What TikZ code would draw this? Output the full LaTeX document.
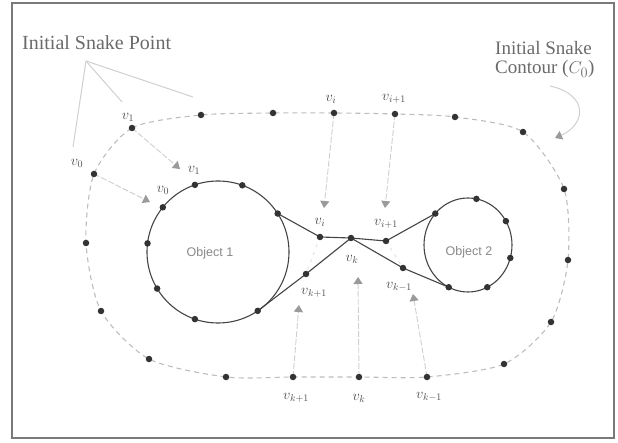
\documentclass[tikz,border=0pt]{standalone}
\usepackage{fontspec}
\setmainfont{Liberation Serif}
\newfontfamily\objfont{Liberation Sans}
\usetikzlibrary{arrows.meta,calc}
\definecolor{framec}{HTML}{7A7A7A}
\definecolor{contourc}{HTML}{BDBDBD}
\definecolor{dotc}{HTML}{333333}
\definecolor{solidc}{HTML}{444444}
\definecolor{arrc}{HTML}{CFCFCF}
\definecolor{headc}{HTML}{9A9A9A}
\definecolor{txtc}{HTML}{6A6A6A}
\definecolor{labc}{HTML}{4A4A4A}
\tikzset{
  dot/.style={circle,fill=dotc,inner sep=0pt,minimum size=6.5pt},
  contour/.style={draw=contourc,line width=1.1pt,dash pattern=on 5pt off 4pt},
  snake/.style={draw=solidc,line width=1.1pt},
  obj/.style={draw=solidc,line width=1.1pt},
  movearr/.style={draw=arrc,line width=0.9pt,dash pattern=on 6pt off 2pt,-{Triangle[width=9pt,length=7pt,fill=headc,color=headc,sep=0pt]}},
  faint/.style={draw=arrc!70,line width=0.8pt,dash pattern=on 3pt off 5pt},
  pointer/.style={draw=arrc,line width=1pt},
  curvearr/.style={draw=arrc,line width=1pt,-{Triangle[width=9pt,length=7pt,fill=headc,color=headc]}},
  vlab/.style={text=labc,font=\fontsize{14}{14}\selectfont,inner sep=0pt},
  bigtxt/.style={text=txtc,font=\fontsize{20}{16}\selectfont,inner sep=0pt,align=left},
  objlab/.style={text=txtc!80,font=\objfont\fontsize{12.5}{12.5}\selectfont,inner sep=0pt}
}
\begin{document}
\begin{tikzpicture}[x=1pt,y=-1pt]
\useasboundingbox (0,0) rectangle (618,443);
\draw[framec,line width=1.4pt] (12,3) rectangle (614,438);

% outer contour coordinates
\coordinate (o1) at (94,174);
\coordinate (o2) at (132,128);
\coordinate (o3) at (201,115);
\coordinate (o4) at (273,113);
\coordinate (o5) at (334,113);
\coordinate (o6) at (395,114);
\coordinate (o7) at (455,117);
\coordinate (o8) at (523,132);
\coordinate (o9) at (564,189);
\coordinate (o10) at (568,260);
\coordinate (o11) at (551,322);
\coordinate (o12) at (504,364);
\coordinate (o13) at (427,377);
\coordinate (o14) at (359,377);
\coordinate (o15) at (293,377);
\coordinate (o16) at (226,377);
\coordinate (o17) at (149,359);
\coordinate (o18) at (101,311);
\coordinate (o19) at (86,243);
\draw[contour] plot[smooth cycle,tension=0.45] coordinates {(o1) (o2) (o3) (o4) (o5) (o6) (o7) (o8) (o9) (o10) (o11) (o12) (o13) (o14) (o15) (o16) (o17) (o18) (o19)};

% objects
\coordinate (c1) at (218,252);
\coordinate (c2) at (468,245);
\draw[obj] (c1) circle[radius=71];
\draw[obj] (c2) ellipse[x radius=44,y radius=47];
\node[objlab] (obj1) at (210,253) {Object 1};
\node[objlab] (obj2) at (469,252) {Object 2};

% points on object 1
\coordinate (a1) at ($(c1)+(251:71)$);
\coordinate (a2) at ($(c1)+(-70:71)$);
\coordinate (a3) at ($(c1)+(-32.8:71)$);
\coordinate (a4) at ($(c1)+(187:71)$);
\coordinate (a5) at ($(c1)+(149:71)$);
\coordinate (a6) at ($(c1)+(109:71)$);
\coordinate (a7) at ($(c1)+(56:71)$);
\coordinate (a8) at ($(c1)+(219:71)$);
% points on object 2
\coordinate (b1) at ($(c2)+(-79:44 and 47)$);
\coordinate (b2) at ($(c2)+(-30.5:44 and 47)$);
\coordinate (b3) at ($(c2)+(16:44 and 47)$);
\coordinate (b4) at ($(c2)+(64:44 and 47)$);
\coordinate (b5) at ($(c2)+(116:44 and 47)$);
\coordinate (b6) at ($(c2)+(222:44 and 47)$);
% inner snake points
\coordinate (si) at (320,237);
\coordinate (sm) at (351,238);
\coordinate (si1) at (386,241);
\coordinate (skm) at (403,268);
\coordinate (skp) at (306,274);

% faint dashes
\draw[faint] (si) -- (skp);
\draw[faint] (si1) -- (skm);

% converged snake
\draw[snake] (a3) -- (si) -- (sm) -- (si1) -- (b6);
\draw[snake] (sm) -- (skm) -- (b5);
\draw[snake] (sm) -- (skp) -- (a7);

% movement arrows
\coordinate (t1) at (180,169);
\coordinate (t0) at (150,202);
\coordinate (ti) at (324,208);
\coordinate (ti1) at (385,208);
\coordinate (tkp) at (299,305);
\coordinate (tk) at (358,277);
\coordinate (tkm) at (413,294);
\draw[movearr] (o2) -- (t1);
\draw[movearr] (o1) -- (t0);
\draw[movearr] (o5) -- (ti);
\draw[movearr] (o6) -- (ti1);
\draw[movearr] (o15) -- (tkp);
\draw[movearr] (o14) -- (tk);
\draw[movearr] (o13) -- (tkm);

% dots
\foreach \p in {o1,o2,o3,o4,o5,o6,o7,o8,o9,o10,o11,o12,o13,o14,o15,o16,o17,o18,o19,a1,a2,a3,a4,a5,a6,a7,a8,b1,b2,b3,b4,b5,b6,si,sm,si1,skm,skp}
  \node[dot] (d\p) at (\p) {};

% initial snake point text and pointers
\node[bigtxt,anchor=base west] (isp) at (22,50) {Initial Snake Point};
\coordinate (ispo) at (86,61);
\coordinate (ispa) at (73,147);
\coordinate (ispb) at (122,102);
\coordinate (ispc) at (193,97);
\draw[pointer] (ispo) -- (ispa);
\draw[pointer] (ispo) -- (ispb);
\draw[pointer] (ispo) -- (ispc);

% initial contour text
\node[bigtxt,anchor=base west,font=\fontsize{19}{16}\selectfont] (isc1) at (495,55) {Initial Snake};
\node[bigtxt,anchor=base west,font=\fontsize{19}{16}\selectfont] (isc2) at (495,74) {Contour ($C_0$)};
\coordinate (cs) at (550,86);
\coordinate (ce) at (555,138);
\draw[curvearr] (cs) .. controls (590,95) and (585,125) .. (ce);

% vertex labels
\node[vlab] (l1) at (128,117) {$v_1$};
\node[vlab] (l0) at (77,163) {$v_0$};
\node[vlab] (l1p) at (194,170) {$v_1$};
\node[vlab] (l0p) at (163,190) {$v_0$};
\node[vlab] (li) at (331,99) {$v_i$};
\node[vlab] (li1) at (394,99) {$v_{i+1}$};
\node[vlab] (lip) at (320,222) {$v_i$};
\node[vlab] (li1p) at (386,224) {$v_{i+1}$};
\node[vlab] (lkp) at (352,259) {$v_k$};
\node[vlab] (lkp1p) at (314,293) {$v_{k+1}$};
\node[vlab] (lkm1p) at (399,287) {$v_{k-1}$};
\node[vlab] (lkp1) at (296,398) {$v_{k+1}$};
\node[vlab] (lk) at (359,398) {$v_k$};
\node[vlab] (lkm1) at (429,397) {$v_{k-1}$};
\end{tikzpicture}
\end{document}
